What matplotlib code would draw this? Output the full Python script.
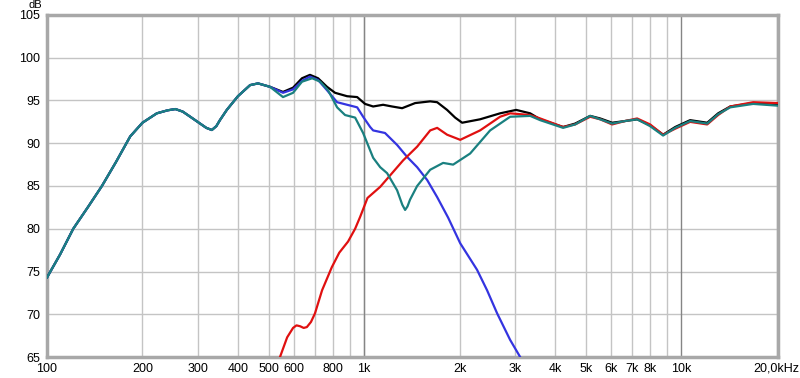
import matplotlib
matplotlib.use("Agg")
import matplotlib.pyplot as plt
import numpy as np

plt.rcParams['font.family'] = ['Liberation Sans', 'DejaVu Sans']

# shared low-frequency section (100 Hz .. 505 Hz)
base_f = [100, 110, 121, 135, 149, 165, 183, 200, 222, 240, 254, 268, 283, 304, 318, 331, 342, 351, 369, 400, 437, 463, 505]
base_db = [74.3, 77.0, 80.0, 82.6, 85.0, 87.8, 90.8, 92.4, 93.5, 93.85, 94.0, 93.7, 93.1, 92.3, 91.8, 91.55, 92.0, 92.7, 93.9, 95.5, 96.8, 97.0, 96.6]

# shared high-frequency section (3.6 kHz .. 20 kHz)
hi_f = [3592, 4243, 4630, 5163, 5553, 6057, 6656, 7262, 7980, 8770, 9577, 10670, 12080, 13080, 14280, 16870, 20090]
hi_db = [92.8, 91.9, 92.3, 93.2, 92.9, 92.4, 92.6, 92.8, 92.1, 91.0, 91.9, 92.7, 92.4, 93.5, 94.3, 94.7, 94.5]
hi_db_teal = [92.7, 91.8, 92.2, 93.2, 92.8, 92.3, 92.6, 92.8, 92.0, 90.9, 91.8, 92.6, 92.3, 93.4, 94.2, 94.6, 94.4]
hi_db_red = [92.9, 91.9, 92.2, 93.1, 92.8, 92.2, 92.6, 92.9, 92.2, 91.0, 91.7, 92.5, 92.2, 93.3, 94.3, 94.8, 94.7]

# summed response (black)
sum_f = [555, 597, 637, 675, 716, 764, 810, 884, 951, 1007, 1068, 1148, 1225, 1318, 1449, 1616, 1700, 1827, 1937, 2038, 2321, 2685, 3017, 3340]
sum_db = [96.0, 96.5, 97.6, 98.0, 97.6, 96.6, 95.9, 95.5, 95.4, 94.6, 94.3, 94.5, 94.3, 94.1, 94.7, 94.9, 94.8, 93.9, 93.0, 92.4, 92.8, 93.5, 93.9, 93.5]

# woofer (blue)
woof_f = [555, 597, 637, 675, 716, 764, 822, 884, 951, 993, 1045, 1068, 1164, 1271, 1367, 1470, 1581, 1700, 1841, 2010, 2271, 2443, 2628, 2888, 3106, 3300]
woof_db = [95.9, 96.3, 97.3, 97.8, 97.4, 96.2, 94.8, 94.5, 94.2, 93.1, 91.9, 91.5, 91.2, 89.8, 88.4, 87.2, 85.7, 83.7, 81.3, 78.3, 75.2, 72.8, 70.1, 67.0, 65.0, 63.0]

# tweeter (red)
tw_f = [520, 543, 572, 597, 612, 628, 645, 660, 680, 700, 737, 791, 835, 890, 937, 972, 1025, 1124, 1225, 1328, 1470, 1616, 1700, 1827, 2010, 2321, 2685, 2888, 3340]
tw_db = [63.0, 65.0, 67.3, 68.4, 68.7, 68.6, 68.4, 68.5, 69.1, 70.1, 72.8, 75.5, 77.2, 78.5, 80.0, 81.4, 83.6, 84.9, 86.5, 88.0, 89.6, 91.5, 91.8, 91.0, 90.4, 91.5, 93.1, 93.5, 93.3]

# inverted-polarity sum (teal)
inv_f = [555, 597, 637, 686, 727, 770, 822, 871, 937, 993, 1068, 1124, 1182, 1271, 1320, 1347, 1370, 1396, 1470, 1616, 1775, 1909, 2160, 2497, 2888, 3340]
inv_db = [95.4, 95.9, 97.2, 97.6, 97.2, 96.2, 94.2, 93.3, 93.0, 91.2, 88.3, 87.2, 86.5, 84.5, 82.8, 82.2, 82.6, 83.4, 85.0, 86.9, 87.7, 87.5, 88.8, 91.5, 93.1, 93.2]

xticks = [100, 200, 300, 400, 500, 600, 800, 1000, 2000, 3000, 4000, 5000, 6000, 7000, 8000, 10000, 20000]
xticklabels = ['100', '200', '300', '400', '500', '600', '800', '1k', '2k', '3k', '4k', '5k', '6k', '7k', '8k', '10k', '20,0kHz']
yticks = [65, 70, 75, 80, 85, 90, 95, 100, 105]

fig = plt.figure(figsize=(8, 3.78), dpi=100)
ax = fig.add_axes([47 / 800, 1 - 357 / 378, 731 / 800, 342 / 378])
ax.set_xscale('log')
ax.set_xlim(100, 20200)
ax.set_ylim(65, 105)

# grid
for f in list(range(100, 1000, 100)) + list(range(1000, 10000, 1000)) + [20000]:
    ax.axvline(f, color='#c4c4c4', lw=1, zorder=0)
for f in [1000, 10000]:
    ax.axvline(f, color='#858585', lw=1, zorder=0.5)
for y in yticks:
    ax.axhline(y, color='#c4c4c4', lw=1, zorder=0)

lw = 1.6
ax.plot(base_f + sum_f + hi_f, base_db + sum_db + hi_db, color='#000000', lw=lw, zorder=3)
ax.plot(base_f + woof_f, base_db + woof_db, color='#3434e0', lw=lw, zorder=4)
ax.plot(tw_f + hi_f, tw_db + hi_db_red, color='#e01010', lw=lw, zorder=5)
ax.plot(base_f + inv_f + hi_f, base_db + inv_db + hi_db_teal, color='#1a8080', lw=lw, zorder=6)

ax.set_xticks(xticks)
ax.set_xticklabels(xticklabels)
ax.xaxis.set_minor_locator(matplotlib.ticker.NullLocator())
ax.set_yticks(yticks)
ax.set_yticklabels([str(v) for v in yticks])
ax.tick_params(axis='both', length=0, labelsize=9, colors='#000000')
ax.tick_params(axis='x', pad=4)
ax.tick_params(axis='y', pad=5)

for s in ax.spines.values():
    s.set_color('#a8a8a8')
    s.set_linewidth(2.5)

fig.text(42 / 800, 1.0, 'dB', ha='right', va='top', fontsize=8)

fig.savefig('out.png', dpi=100)
